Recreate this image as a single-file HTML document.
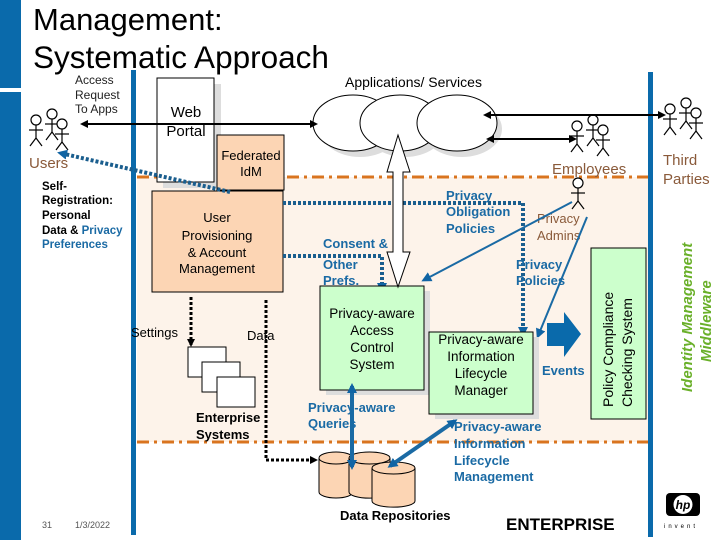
<!DOCTYPE html>
<html><head><meta charset="utf-8"><style>
html,body{margin:0;padding:0;background:#fff;}
svg{display:block;font-family:"Liberation Sans",Arial,sans-serif;}
</style></head><body>
<svg width="720" height="540" viewBox="0 0 720 540" xmlns="http://www.w3.org/2000/svg">
<defs>
<g id="p" stroke="#000" stroke-width="1.2" fill="none">
<circle cx="0" cy="0" r="5" fill="#fff"/><line x1="0" y1="5" x2="0" y2="18"/><line x1="-7" y1="10" x2="7" y2="10"/><line x1="0" y1="18" x2="-6" y2="26"/><line x1="0" y1="18" x2="6" y2="26"/>
</g>
<g id="grp"><use href="#p" x="0" y="6"/><use href="#p" x="16" y="0"/><use href="#p" x="26" y="10"/></g>
<marker id="ab" markerWidth="8" markerHeight="8" refX="6" refY="4" orient="auto" markerUnits="userSpaceOnUse"><path d="M0,0 L8,4 L0,8 z" fill="#000"/></marker>
<marker id="abl" markerWidth="10" markerHeight="10" refX="7" refY="5" orient="auto" markerUnits="userSpaceOnUse"><path d="M0,0 L10,5 L0,10 z" fill="#1064a4"/></marker>
<marker id="abs" markerWidth="10" markerHeight="10" refX="7" refY="5" orient="auto-start-reverse" markerUnits="userSpaceOnUse"><path d="M0,0 L10,5 L0,10 z" fill="#1064a4"/></marker>
</defs>
<rect x="0" y="0" width="21" height="88" fill="#0a6aab"/>
<rect x="0" y="92" width="21" height="448" fill="#0a6aab"/>
<text x="33" y="30" font-size="31">Management:</text>
<text x="33" y="68" font-size="31.5">Systematic Approach</text>
<rect x="137" y="177" width="513" height="265" fill="#fdf3ea"/>
<line x1="137" y1="177" x2="650" y2="177" stroke="#d9741f" stroke-width="3" stroke-dasharray="12,5,3,5"/>
<line x1="137" y1="442" x2="650" y2="442" stroke="#d9741f" stroke-width="3" stroke-dasharray="12,5,3,5"/>
<rect x="131" y="70" width="5" height="465" fill="#0a6aab"/>
<rect x="648" y="72" width="5" height="465" fill="#0a6aab"/>
<text font-size="12" fill="#222"><tspan x="75" y="84">Access</tspan><tspan x="75" y="99">Request</tspan><tspan x="75" y="113">To Apps</tspan></text>
<use href="#grp" x="36" y="114"/>
<text x="29" y="168" font-size="15" fill="#8a5a3a">Users</text>
<text font-size="11.5" font-weight="bold"><tspan x="42" y="190">Self-</tspan><tspan x="42" y="204">Registration:</tspan><tspan x="42" y="219">Personal</tspan><tspan x="42" y="234">Data &amp; <tspan fill="#1a6aa4">Privacy</tspan></tspan><tspan x="42" y="248" fill="#1a6aa4">Preferences</tspan></text>
<rect x="163" y="84" width="58" height="104" fill="#ddd"/>
<rect x="157" y="78" width="57" height="104" fill="#fff" stroke="#000"/>
<text font-size="15" text-anchor="middle"><tspan x="186" y="117">Web</tspan><tspan x="186" y="136">Portal</tspan></text>
<g fill="#ddd"><ellipse cx="360" cy="129" rx="40" ry="28"/><ellipse cx="405" cy="129" rx="40" ry="28"/><ellipse cx="462" cy="129" rx="40" ry="28"/></g>
<g fill="#fff" stroke="#000"><ellipse cx="353" cy="123" rx="40" ry="28"/><ellipse cx="400" cy="123" rx="40" ry="28"/><ellipse cx="457" cy="123" rx="40" ry="28"/></g>
<text x="345" y="87" font-size="14">Applications/ Services</text>
<line x1="315" y1="124" x2="82" y2="124" stroke="#000" stroke-width="2" marker-end="url(#ab)"/>
<line x1="270" y1="124" x2="316" y2="124" stroke="#000" stroke-width="2" marker-end="url(#ab)"/>
<rect x="217" y="135" width="67" height="55" fill="#fcd5b4" stroke="#000"/>
<text font-size="13" text-anchor="middle"><tspan x="251" y="160">Federated</tspan><tspan x="251" y="176">IdM</tspan></text>
<rect x="152" y="191" width="131" height="101" fill="#fcd5b4" stroke="#000"/>
<text font-size="13" text-anchor="middle"><tspan x="217" y="222">User</tspan><tspan x="217" y="240">Provisioning</tspan><tspan x="217" y="257">&amp; Account</tspan><tspan x="217" y="273">Management</tspan></text>
<line x1="230" y1="192" x2="60" y2="153" stroke="#1a5e8e" stroke-width="4" stroke-dasharray="3,2" marker-end="url(#abl)"/>
<use href="#grp" x="577" y="120"/>
<use href="#grp" x="670" y="103"/>
<line x1="490" y1="115" x2="664" y2="115" stroke="#000" stroke-width="2" marker-end="url(#ab)"/>
<line x1="500" y1="115" x2="485" y2="115" stroke="#000" stroke-width="2" marker-end="url(#ab)"/>
<line x1="500" y1="139" x2="575" y2="139" stroke="#000" stroke-width="2" marker-end="url(#ab)"/>
<line x1="520" y1="139" x2="488" y2="139" stroke="#000" stroke-width="2" marker-end="url(#ab)"/>
<text x="552" y="174" font-size="15" fill="#8a5a3a">Employees</text>
<text font-size="15" fill="#8a5a3a"><tspan x="663" y="165">Third</tspan><tspan x="663" y="184">Parties</tspan></text>
<use href="#p" x="578" y="183"/>
<text font-size="13" fill="#8a5a3a"><tspan x="537" y="223">Privacy</tspan><tspan x="537" y="240">Admins</tspan></text>
<path d="M283,203 L523,203 L523,334" fill="none" stroke="#1a5e8e" stroke-width="4" stroke-dasharray="3,2" marker-end="url(#abl)"/>
<path d="M283,256 L382,256 L382,290" fill="none" stroke="#1a5e8e" stroke-width="4" stroke-dasharray="3,2" marker-end="url(#abl)"/>
<text font-size="13" font-weight="bold" fill="#1a6aa4"><tspan x="446" y="200">Privacy</tspan><tspan x="446" y="216">Obligation</tspan><tspan x="446" y="233">Policies</tspan></text>
<text font-size="13" font-weight="bold" fill="#1a6aa4"><tspan x="323" y="248">Consent &amp;</tspan><tspan x="323" y="269">Other</tspan><tspan x="323" y="285">Prefs.</tspan></text>
<text font-size="13" font-weight="bold" fill="#1a6aa4"><tspan x="516" y="269">Privacy</tspan><tspan x="516" y="285">Policies</tspan></text>
<line x1="572" y1="202" x2="424" y2="280" stroke="#1a6aa4" stroke-width="2" marker-end="url(#abl)"/>
<line x1="587" y1="217" x2="538" y2="336" stroke="#1a6aa4" stroke-width="2" marker-end="url(#abl)"/>
<rect x="326" y="291" width="104" height="104" fill="#ddd"/>
<rect x="320" y="286" width="104" height="104" fill="#ccffcc" stroke="#000"/>
<text font-size="13.5" text-anchor="middle"><tspan x="372" y="318">Privacy-aware</tspan><tspan x="372" y="335">Access</tspan><tspan x="372" y="352">Control</tspan><tspan x="372" y="369">System</tspan></text>
<path d="M398,135 L410,172 L403,172 L403,252 L410,252 L398,287 L387,252 L393,252 L393,172 L387,172 Z" fill="#fff" stroke="#000"/>
<rect x="435" y="337" width="104" height="82" fill="#ddd"/>
<rect x="429" y="332" width="104" height="82" fill="#ccffcc" stroke="#000"/>
<text font-size="13.5" text-anchor="middle"><tspan x="481" y="344">Privacy-aware</tspan><tspan x="481" y="361">Information</tspan><tspan x="481" y="378">Lifecycle</tspan><tspan x="481" y="395">Manager</tspan></text>
<path d="M547,323 L564,323 L564,312 L581,334 L564,357 L564,346 L547,346 Z" fill="#0a6aab"/>
<text x="542" y="375" font-size="13" font-weight="bold" fill="#1a6aa4">Events</text>
<rect x="591" y="248" width="55" height="171" fill="#ccffcc" stroke="#000"/>
<text transform="translate(613,407) rotate(-90)" font-size="14">Policy Compliance</text>
<text transform="translate(632,407) rotate(-90)" font-size="14">Checking System</text>
<text transform="translate(692,392) rotate(-90)" font-size="15" font-weight="bold" font-style="italic" fill="#6ab02a">Identity Management</text>
<text transform="translate(711,362) rotate(-90)" font-size="15" font-weight="bold" font-style="italic" fill="#6ab02a">Middleware</text>
<line x1="191" y1="297" x2="191" y2="345" stroke="#000" stroke-width="3" stroke-dasharray="3,2" marker-end="url(#ab)"/>
<text x="131" y="337" font-size="13">Settings</text>
<text x="247" y="340" font-size="13">Data</text>
<path d="M266,300 L266,460 L316,460" fill="none" stroke="#000" stroke-width="3" stroke-dasharray="3,2" marker-end="url(#ab)"/>
<g fill="#fff" stroke="#000"><rect x="188" y="347" width="38" height="30"/><rect x="202" y="362" width="38" height="30"/><rect x="217" y="377" width="38" height="30"/></g>
<text font-size="13" font-weight="bold"><tspan x="196" y="422">Enterprise</tspan><tspan x="196" y="439">Systems</tspan></text>
<g fill="#fcd5b4" stroke="#000">
<path d="M319,458 L319,492 A17,6 0 0 0 353,492 L353,458"/><ellipse cx="336" cy="458" rx="17" ry="6"/>
<path d="M349,458 L349,492 A20,6 0 0 0 390,492 L390,458"/><ellipse cx="369.5" cy="458" rx="20.5" ry="6"/>
<path d="M372,468 L372,501 A21,6 0 0 0 415,501 L415,468"/><ellipse cx="393.5" cy="468" rx="21.5" ry="6"/>
</g>
<line x1="352" y1="386" x2="352" y2="467" stroke="#1a6aa4" stroke-width="4" marker-start="url(#abs)" marker-end="url(#abs)"/>
<line x1="455" y1="421" x2="390" y2="466" stroke="#1a6aa4" stroke-width="4" marker-start="url(#abs)" marker-end="url(#abs)"/>
<text font-size="13" font-weight="bold" fill="#1a6aa4"><tspan x="308" y="412">Privacy-aware</tspan><tspan x="308" y="428">Queries</tspan></text>
<text font-size="13" font-weight="bold" fill="#1a6aa4"><tspan x="454" y="431">Privacy-aware</tspan><tspan x="454" y="448">Information</tspan><tspan x="454" y="465">Lifecycle</tspan><tspan x="454" y="481">Management</tspan></text>
<text x="340" y="520" font-size="13" font-weight="bold">Data Repositories</text>
<text x="506" y="530" font-size="17" font-weight="bold">ENTERPRISE</text>
<text x="42" y="528" font-size="9" fill="#555">31</text>
<text x="75" y="528" font-size="9" fill="#555">1/3/2022</text>
<rect x="666" y="493" width="34" height="23" rx="4" fill="#000"/>
<circle cx="683" cy="504.5" r="9.5" fill="#fff"/>
<text x="683" y="509" font-size="12" font-style="italic" font-weight="bold" text-anchor="middle">hp</text>
<text x="664" y="528" font-size="6" letter-spacing="3">invent</text>
</svg>
</body></html>
